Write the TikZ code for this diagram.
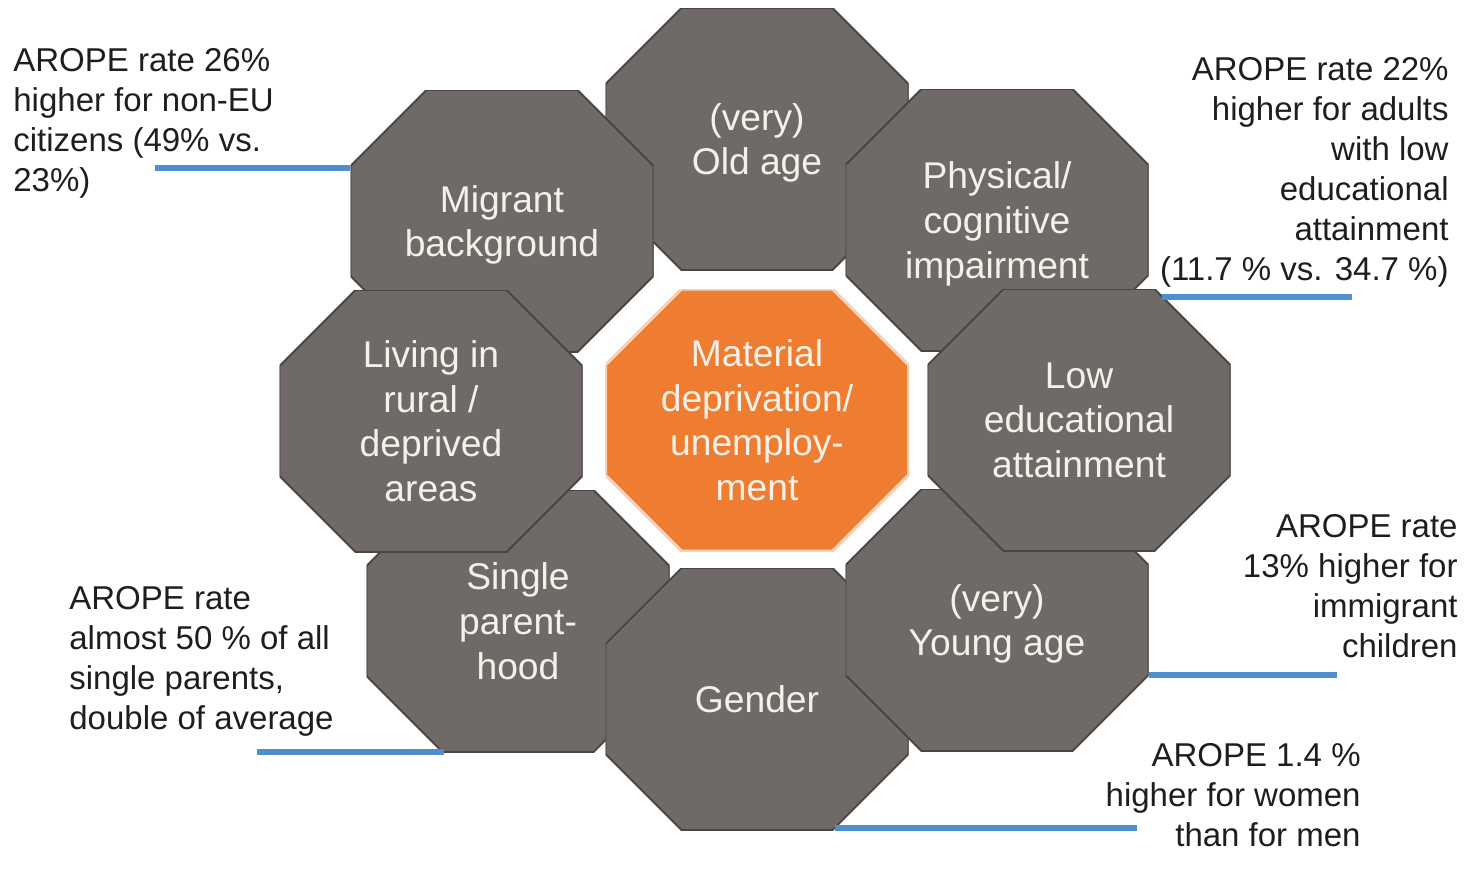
\documentclass[tikz,border=0pt]{standalone}
\usepackage{fontspec}
\setmainfont{Liberation Sans}

\definecolor{octgray}{HTML}{6F6968}
\definecolor{octedge}{HTML}{4A4443}
\definecolor{octtext}{HTML}{F6F1E8}
\definecolor{coreorange}{HTML}{EE7D31}
\definecolor{linkblue}{HTML}{4F8FCF}
\definecolor{notetext}{HTML}{1E1E1E}

\tikzset{
  octface/.style={fill=octgray,draw=octedge,line width=0.9pt},
  oct/.style={minimum width=151.5pt,minimum height=131pt,align=center,text=octtext,
    text depth=0pt,font=\fontsize{18.6}{22.4}\selectfont,
    path picture={\filldraw[octface]
      ([xshift=38pt]path picture bounding box.north west) --
      ([xshift=-38pt]path picture bounding box.north east) --
      ([yshift=-38pt]path picture bounding box.north east) --
      ([yshift=38pt]path picture bounding box.south east) --
      ([xshift=-38pt]path picture bounding box.south east) --
      ([xshift=38pt]path picture bounding box.south west) --
      ([yshift=38pt]path picture bounding box.south west) --
      ([yshift=-38pt]path picture bounding box.north west) -- cycle;}},
  core/.style={oct,octface/.style={fill=coreorange,draw=coreorange!35!white,line width=1.5pt}},
  note/.style={text=notetext,font=\fontsize{16.5}{20}\selectfont},
  link/.style={draw=linkblue,line width=3pt}
}

\begin{document}
\begin{tikzpicture}[x=0.5pt,y=-0.5pt,every node/.style={inner sep=0pt}]
  \useasboundingbox (0,0) rectangle (1477,869);
  % octagons, back to front
  \node[oct] (sgl) at (518,621) {Single\\parent-\\hood};
  \node[oct] (gen) at (757,699) {Gender};
  \node[oct] (yng) at (997,620) {(very)\\Young age};
  \node[oct] (old) at (757,139) {(very)\\Old age};
  \node[oct] (mig) at (502,221) {Migrant\\background};
  \node[oct] (liv) at (431,421) {Living in\\rural /\\deprived\\areas};
  \node[oct] (phy) at (997,220) {Physical/\\cognitive\\impairment};
  \node[oct] (low) at (1079,420) {Low\\educational\\attainment};
  \node[core] (mat) at (757,420) {Material\\deprivation/\\unemploy-\\ment};
  % notes
  \node[note,anchor=west,align=left] (n1) at (13,123) {AROPE rate 26\%\\higher for non-EU\\citizens (49\% vs.\\23\%)};
  \node[note,anchor=east,align=right] (n2) at (1449,172) {AROPE rate 22\%\\higher for adults\\with low\\educational\\attainment\\(11.7 \% vs. 34.7 \%)};
  \node[note,anchor=east,align=right] (n3) at (1458,586) {AROPE rate\\13\% higher for\\immigrant\\children};
  \node[note,anchor=east,align=right] (n4) at (1361,795) {AROPE 1.4 \%\\higher for women\\than for men};
  \node[note,anchor=west,align=left] (n5) at (69,661) {AROPE rate\\almost 50 \% of all\\single parents,\\double of average};
  % blue leader lines
  \coordinate (e1) at (155,168);
  \coordinate (s2) at (1162,297);
  \coordinate (e2) at (1352,297);
  \coordinate (e3) at (1337,675);
  \coordinate (s4) at (835,828);
  \coordinate (e4) at (1137,828);
  \coordinate (e5) at (257,752);
  \coordinate (s5) at (444,752);
  \draw[link] (e1) -- (e1 -| mig.west);
  \draw[link] (s2) -- (e2);
  \draw[link] (yng.east |- e3) -- (e3);
  \draw[link] (s4) -- (e4);
  \draw[link] (e5) -- (s5);
\end{tikzpicture}
\end{document}
